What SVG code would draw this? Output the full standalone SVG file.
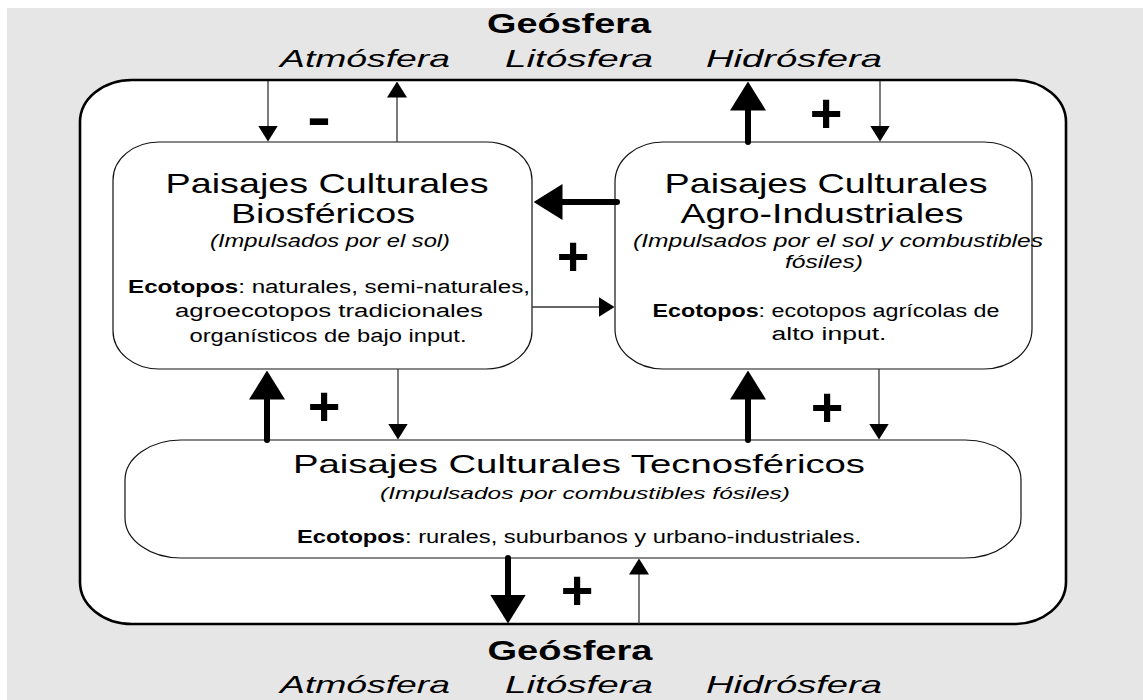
<svg xmlns="http://www.w3.org/2000/svg" width="1143" height="700" viewBox="0 0 1143 700">
<style>
  text { font-family: "Liberation Sans", Arial, sans-serif; fill: #000; }
  .t { font-size: 28px; text-anchor: middle; }
  .t3 { font-size: 26px; text-anchor: middle; }
  .sub { font-size: 18px; font-style: italic; text-anchor: middle; }
  .body { font-size: 18px; text-anchor: middle; }
  .geo { font-size: 27px; font-weight: bold; text-anchor: middle; }
  .sph { font-size: 24px; font-style: italic; }
  .sign { font-size: 56px; font-weight: bold; text-anchor: middle; }
  .box { fill: #fff; stroke: #111; stroke-width: 1.2; }
  .thin { stroke: #333; stroke-width: 1.3; fill: none; marker-end: url(#hThin); }
  .thick { stroke: #000; stroke-width: 6; stroke-linecap: round; fill: none; marker-end: url(#hThick); }
</style>
<defs>
  <marker id="hThin" markerUnits="userSpaceOnUse" viewBox="0 0 16 20" markerWidth="16" markerHeight="20" refX="0.5" refY="10" orient="auto">
    <path d="M0,0 L16,10 L0,20 z" fill="#000"/>
  </marker>
  <marker id="hThick" markerUnits="userSpaceOnUse" viewBox="0 0 29 36" markerWidth="29" markerHeight="36" refX="0.5" refY="18" orient="auto">
    <path d="M0,0 L29,18 L0,36 z" fill="#000"/>
  </marker>
</defs>
<rect x="0" y="0" width="1143" height="700" fill="#fff"/>
<rect x="7" y="8" width="1136" height="692" fill="#e6e6e6"/>

<g id="outer">
  <rect x="80" y="80" width="986" height="544" rx="52" ry="42" fill="#fff" stroke="#000" stroke-width="2.6"/>
</g>

<g id="geo-top">
  <text class="geo" x="569" y="33" textLength="164" lengthAdjust="spacingAndGlyphs">Geósfera</text>
  <text class="sph" x="280" y="67" textLength="170" lengthAdjust="spacingAndGlyphs">Atmósfera</text>
  <text class="sph" x="505" y="67" textLength="148" lengthAdjust="spacingAndGlyphs">Litósfera</text>
  <text class="sph" x="706" y="67" textLength="176" lengthAdjust="spacingAndGlyphs">Hidrósfera</text>
</g>

<g id="geo-bottom">
  <text class="geo" x="570" y="660" textLength="165" lengthAdjust="spacingAndGlyphs">Geósfera</text>
  <text class="sph" x="280" y="693" textLength="170" lengthAdjust="spacingAndGlyphs">Atmósfera</text>
  <text class="sph" x="505" y="693" textLength="148" lengthAdjust="spacingAndGlyphs">Litósfera</text>
  <text class="sph" x="706" y="693" textLength="176" lengthAdjust="spacingAndGlyphs">Hidrósfera</text>
</g>

<g id="biosfericos">
  <rect class="box" x="113" y="142" width="419" height="227" rx="46" ry="38"/>
  <text class="t" x="327" y="193" textLength="323" lengthAdjust="spacingAndGlyphs">Paisajes Culturales</text>
  <text class="t" x="323" y="223" textLength="184" lengthAdjust="spacingAndGlyphs">Biosféricos</text>
  <text class="sub" x="330" y="247" textLength="240" lengthAdjust="spacingAndGlyphs">(Impulsados por el sol)</text>
  <text class="body" x="329" y="293" textLength="402" lengthAdjust="spacingAndGlyphs"><tspan font-weight="bold">Ecotopos</tspan>: naturales, semi-naturales,</text>
  <text class="body" x="329" y="317" textLength="308" lengthAdjust="spacingAndGlyphs">agroecotopos tradicionales</text>
  <text class="body" x="328" y="342" textLength="277" lengthAdjust="spacingAndGlyphs">organísticos de bajo input.</text>
</g>

<g id="agroindustriales">
  <rect class="box" x="615" y="142" width="417" height="227" rx="48" ry="40"/>
  <text class="t" x="826" y="193" textLength="323" lengthAdjust="spacingAndGlyphs">Paisajes Culturales</text>
  <text class="t" x="822" y="223" textLength="283" lengthAdjust="spacingAndGlyphs">Agro-Industriales</text>
  <text class="sub" x="838" y="247" textLength="410" lengthAdjust="spacingAndGlyphs">(Impulsados por el sol y combustibles</text>
  <text class="sub" x="824" y="268" textLength="78" lengthAdjust="spacingAndGlyphs">fósiles)</text>
  <text class="body" x="826" y="317" textLength="347" lengthAdjust="spacingAndGlyphs"><tspan font-weight="bold">Ecotopos</tspan>: ecotopos agrícolas de</text>
  <text class="body" x="829" y="340" textLength="115" lengthAdjust="spacingAndGlyphs">alto input.</text>
</g>

<g id="tecnosfericos">
  <rect class="box" x="125" y="440" width="896" height="118" rx="56" ry="40"/>
  <text class="t3" x="579" y="473" textLength="572" lengthAdjust="spacingAndGlyphs">Paisajes Culturales Tecnosféricos</text>
  <text class="sub" x="585" y="499" textLength="410" lengthAdjust="spacingAndGlyphs" style="font-size:17px">(Impulsados por combustibles fósiles)</text>
  <text class="body" x="579" y="543" textLength="564" lengthAdjust="spacingAndGlyphs"><tspan font-weight="bold">Ecotopos</tspan>: rurales, suburbanos y urbano-industriales.</text>
</g>

<g id="connectors">
  <line class="thin" x1="268" y1="81" x2="268" y2="126"/>
  <line class="thin" x1="397" y1="142" x2="397" y2="97"/>
  <line class="thick" x1="748" y1="142" x2="748" y2="110"/>
  <line class="thin" x1="880" y1="81" x2="880" y2="126"/>
  <line class="thick" x1="617" y1="202" x2="562" y2="202"/>
  <line class="thin" x1="532" y1="307" x2="599" y2="307"/>
  <line class="thick" x1="267" y1="440" x2="267" y2="399"/>
  <line class="thin" x1="398" y1="369" x2="398" y2="424"/>
  <line class="thick" x1="748" y1="440" x2="748" y2="399"/>
  <line class="thin" x1="879" y1="369" x2="879" y2="424"/>
  <line class="thick" x1="508" y1="558" x2="508" y2="595"/>
  <line class="thin" x1="639" y1="624" x2="639" y2="574"/>
</g>

<g id="signs">
  <text class="sign" x="319" y="136" textLength="24" lengthAdjust="spacingAndGlyphs">-</text>
  <text class="sign" x="826" y="132">+</text>
  <text class="sign" x="573" y="275">+</text>
  <text class="sign" x="324" y="425">+</text>
  <text class="sign" x="827" y="426">+</text>
  <text class="sign" x="577" y="609">+</text>
</g>
</svg>
